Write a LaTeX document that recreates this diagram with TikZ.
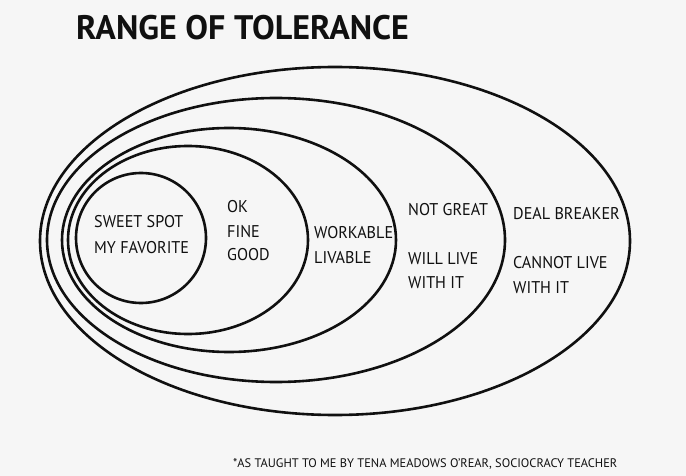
\documentclass[tikz,border=0pt]{standalone}
\usepackage{fontspec}
\setmainfont{PT Sans}
\newfontfamily\zonefont[FakeStretch=0.95]{PT Sans}
\usepackage{xcolor}
\definecolor{paper}{HTML}{F6F6F6}
\definecolor{ink}{HTML}{101010}

\begin{document}
\begin{tikzpicture}[
    x=1pt, y=-1pt,
    ring/.style={draw=ink, line width=2.6pt},
    zoneText/.style={anchor=base west, inner sep=0pt, text=ink, font=\zonefont\fontsize{17}{20}\selectfont},
    titleText/.style={anchor=base west, inner sep=0pt, text=ink, font=\bfseries\fontsize{34}{38}\selectfont},
    noteText/.style={anchor=base west, inner sep=0pt, text=ink, font=\fontsize{12.4}{15}\selectfont}
]
    % Sfondo e cornice della figura
    \fill[paper] (0,0) rectangle (686,476);
    \useasboundingbox (0,0) rectangle (686,476);

    % Titolo
    \node[titleText] (title) at (76, 40) {RANGE OF TOLERANCE};

    % Anelli di tolleranza, dall'esterno verso l'interno
    \draw[ring] (335,241) ellipse [x radius=295, y radius=174];   % deal breaker
    \draw[ring] (276,240) ellipse [x radius=229, y radius=142];   % not great
    \draw[ring] (229,240) ellipse [x radius=167, y radius=112];   % workable
    \draw[ring] (188,240) ellipse [x radius=120, y radius=94];    % ok
    \draw[ring] (141,238) ellipse [x radius=65, y radius=65];     % sweet spot

    % Testi delle zone
    \node[zoneText] (sweetA) at (94, 228) {SWEET SPOT};
    \node[zoneText] (sweetB) at (94, 253) {MY FAVORITE};

    \node[zoneText] (okA) at (227, 212) {OK};
    \node[zoneText] (okB) at (227, 237) {FINE};
    \node[zoneText] (okC) at (227, 261) {GOOD};

    \node[zoneText] (workA) at (314, 238) {WORKABLE};
    \node[zoneText] (workB) at (314, 263) {LIVABLE};

    \node[zoneText] (greatA) at (408, 215) {NOT GREAT};
    \node[zoneText] (greatB) at (408, 265) {WILL LIVE};
    \node[zoneText] (greatC) at (408, 288) {WITH IT};

    \node[zoneText] (dealA) at (513, 219) {DEAL BREAKER};
    \node[zoneText] (dealB) at (513, 268) {CANNOT LIVE};
    \node[zoneText] (dealC) at (513, 293) {WITH IT};

    % Nota a pie' di pagina
    \node[noteText] (note) at (233, 467) {*AS TAUGHT TO ME BY TENA MEADOWS O'REAR, SOCIOCRACY TEACHER};
\end{tikzpicture}
\end{document}
